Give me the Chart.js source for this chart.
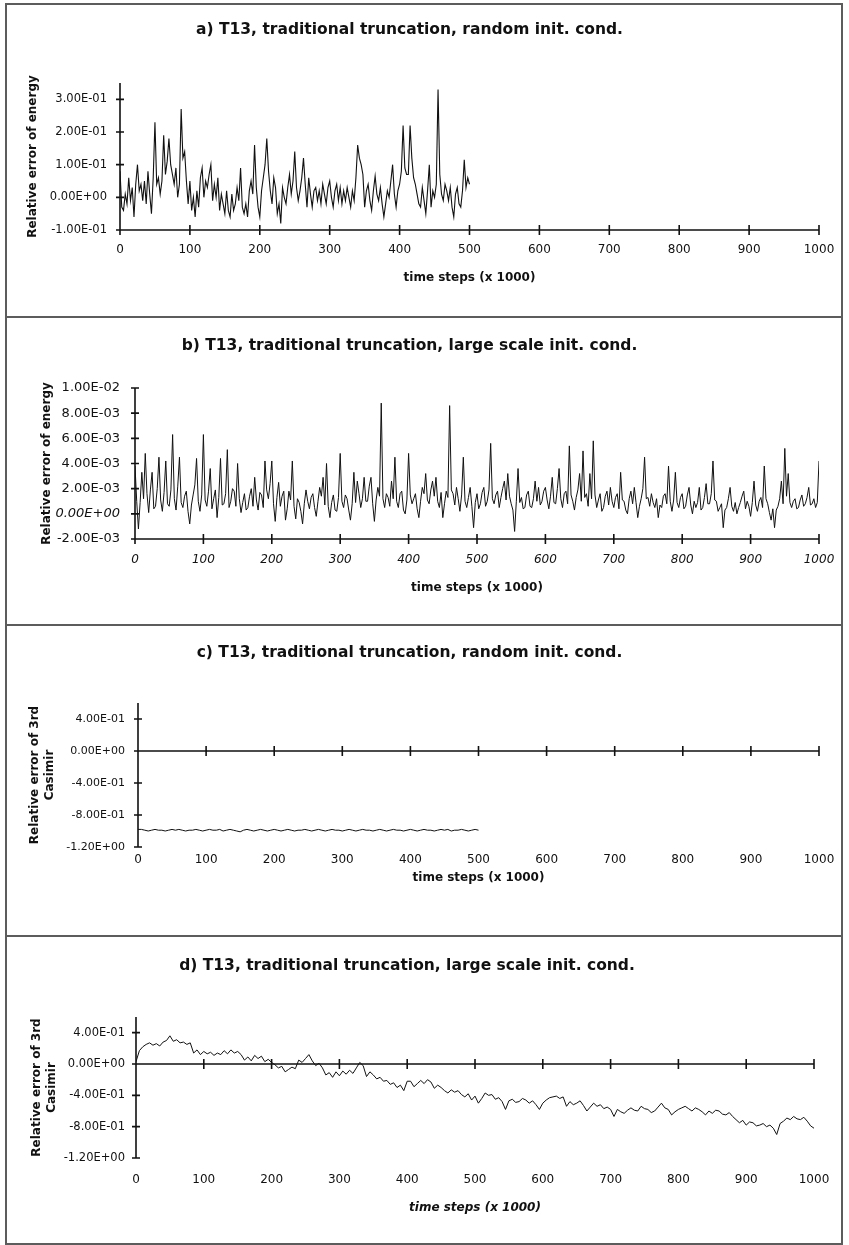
<!DOCTYPE html>
<html>
<head>
<meta charset="utf-8">
<script src="https://cdn.jsdelivr.net/npm/chart.js@4.4.1/dist/chart.umd.min.js"></script>
<style>
  html, body { margin: 0; padding: 0; background: #fff; }
  body { width: 849px; height: 1245px; position: relative; overflow: hidden; }
  .cadre { position: absolute; left: 5px; width: 838px; border: 2px solid #5c5c5c; border-bottom: none; box-sizing: border-box; }
  canvas { position: absolute; left: 0; }
</style>
</head>
<body>
<div class="cadre" style="top:3px;height:313px"></div>
<div class="cadre" style="top:316px;height:308px"></div>
<div class="cadre" style="top:624px;height:311px"></div>
<div class="cadre" style="top:935px;height:310px;border-bottom:2px solid #5c5c5c"></div>

<canvas id="graphe-a" width="849" height="313" style="top:3px"></canvas>
<canvas id="graphe-b" width="849" height="308" style="top:316px"></canvas>
<canvas id="graphe-c" width="849" height="311" style="top:624px"></canvas>
<canvas id="graphe-d" width="849" height="308" style="top:935px"></canvas>

<script>
// Pas de temps (x 1000) entre deux valeurs successives de chaque série
const PAS_A = 2.5;
const PAS_B = 2.5;
const PAS_C = 5;
const PAS_D = 5;

// a) erreur relative d'énergie, conditions initiales aléatoires (0 à 500)
const energieA = [
  0.08, -0.03, -0.04, 0.01, -0.02, 0.06, -0.01, 0.03, -0.06, 0.04,
  0.10, 0.02, 0.04, -0.01, 0.05, -0.02, 0.08, 0.01, -0.05, 0.06,
  0.23, 0.04, 0.06, 0.01, 0.05, 0.19, 0.07, 0.11, 0.18, 0.10,
  0.07, 0.04, 0.09, 0.00, 0.04, 0.27, 0.12, 0.14, 0.05, -0.02,
  0.05, -0.04, 0.00, -0.06, 0.02, -0.03, 0.06, 0.09, 0.00, 0.05,
  0.03, 0.07, 0.10, -0.01, 0.04, 0.00, 0.06, -0.04, 0.01, -0.02,
  -0.05, 0.02, -0.04, -0.06, 0.01, -0.04, -0.02, 0.03, -0.01, 0.09,
  -0.03, -0.05, -0.02, -0.06, 0.02, 0.05, 0.01, 0.16, 0.03, -0.03,
  -0.06, 0.02, 0.06, 0.10, 0.18, 0.08, 0.02, -0.02, 0.06, 0.03,
  -0.05, -0.02, -0.08, 0.03, 0.00, -0.02, 0.03, 0.07, 0.01, 0.05,
  0.14, 0.03, -0.01, 0.02, 0.06, 0.12, 0.04, -0.03, 0.06, 0.01,
  -0.03, 0.02, 0.03, -0.01, 0.02, -0.02, 0.04, 0.01, -0.02, 0.03,
  0.05, 0.00, -0.03, 0.02, 0.04, -0.01, 0.03, -0.02, 0.02, -0.01,
  0.03, 0.00, -0.03, 0.02, -0.01, 0.06, 0.16, 0.12, 0.10, 0.07,
  -0.03, 0.02, 0.04, -0.01, -0.04, 0.02, 0.065, 0.01, -0.01, 0.03,
  -0.02, -0.06, -0.02, 0.02, 0.00, 0.05, 0.10, 0.01, -0.03, 0.02,
  0.04, 0.08, 0.22, 0.09, 0.07, 0.07, 0.22, 0.12, 0.06, 0.04,
  0.01, -0.02, -0.03, 0.03, -0.01, -0.05, 0.02, 0.10, -0.03, 0.02,
  0.00, 0.04, 0.33, 0.07, 0.01, -0.01, 0.04, 0.02, -0.01, 0.03,
  -0.03, -0.06, 0.01, 0.03, -0.02, -0.03, 0.02, 0.115, 0.03, 0.06,
  0.04
];

// b) erreur relative d'énergie, conditions initiales grande échelle (0 à 1000)
const energieB = [
  0.0038, 0.0010, -0.0012, 0.0009, 0.0033, 0.0012, 0.0048, 0.0016, 0.0001, 0.0019,
  0.0033, 0.0004, 0.0006, 0.0020, 0.0045, 0.0011, 0.0002, 0.0017, 0.0042, 0.0008,
  0.0006, 0.0019, 0.0063, 0.0012, 0.0003, 0.0022, 0.0045, 0.0009, 0.0005, 0.0014,
  0.0018, 0.0002, -0.0008, 0.0007, 0.0015, 0.0023, 0.0044, 0.0010, 0.0002, 0.0015,
  0.0063, 0.0011, 0.0006, 0.0018, 0.0036, 0.0004, 0.0012, 0.0019, -0.0003, 0.0013,
  0.0044, 0.0007, 0.0008, 0.0016, 0.0051, 0.0005, 0.0010, 0.0020, 0.0018, 0.0006,
  0.0040, 0.0012, 0.0001, 0.0009, 0.0016, 0.0003, 0.0005, 0.0014, 0.0020, 0.0006,
  0.0029, 0.0011, 0.0003, 0.0017, 0.0015, 0.0005, 0.0042, 0.0019, 0.0012, 0.0024,
  0.0042, 0.0008, -0.0006, 0.0013, 0.0025, 0.0006, 0.0014, 0.0018, -0.0005, 0.0004,
  0.0018, 0.0011, 0.0042, 0.0006, -0.0004, 0.0012, 0.0009, 0.0002, -0.0008, 0.0008,
  0.0019, 0.0010, 0.0004, 0.0013, 0.0016, 0.0005, -0.0002, 0.0010, 0.0021, 0.0014,
  0.0029, 0.0007, 0.0040, 0.0006, -0.0003, 0.0009, 0.0015, 0.0003, 0.0002, 0.0013,
  0.0048, 0.0010, 0.0005, 0.0015, 0.0012, 0.0003, -0.0005, 0.0008, 0.0033, 0.0009,
  0.0026, 0.0016, 0.0005, 0.0012, 0.0029, 0.0010, 0.0010, 0.0022, 0.0029, 0.0008,
  -0.0006, 0.0011, 0.0021, 0.0014, 0.0088, 0.0012, 0.0005, 0.0016, 0.0013, 0.0006,
  0.0026, 0.0012, 0.0045, 0.0010, 0.0005, 0.0016, 0.0018, 0.0003, 0.0000, 0.0011,
  0.0048, 0.0015, 0.0008, 0.0012, 0.0016, 0.0004, -0.0003, 0.0010, 0.0021, 0.0016,
  0.0032, 0.0011, 0.0008, 0.0019, 0.0026, 0.0014, 0.0029, 0.0010, 0.0005, 0.0017,
  -0.0003, 0.0008, 0.0018, 0.0013, 0.0086, 0.0019, 0.0016, 0.0007, 0.0021, 0.0012,
  0.0002, 0.0015, 0.0045, 0.0010, 0.0005, 0.0013, 0.0021, 0.0006, -0.0011, 0.0009,
  0.0016, 0.0004, 0.0008, 0.0017, 0.0021, 0.0006, 0.0010, 0.0019, 0.0056, 0.0012,
  0.0008, 0.0015, 0.0018, 0.0005, 0.0013, 0.0020, 0.0026, 0.0011, 0.0032, 0.0014,
  0.0008, 0.0003, -0.0014, 0.0010, 0.0036, 0.0009, 0.0013, 0.0004, 0.0005, 0.0015,
  0.0018, 0.0006, 0.0005, 0.0012, 0.0026, 0.0010, 0.0021, 0.0007, 0.0010, 0.0018,
  0.0021, 0.0011, 0.0004, 0.0014, 0.0029, 0.0009, 0.0008, 0.0020, 0.0036, 0.0012,
  0.0005, 0.0016, 0.0018, 0.0008, 0.0054, 0.0015, 0.0010, 0.0003, 0.0013, 0.0019,
  0.0032, 0.0010, 0.0050, 0.0013, 0.0016, 0.0006, 0.0032, 0.0012, 0.0058, 0.0015,
  0.0005, 0.0011, 0.0016, 0.0002, 0.0005, 0.0014, 0.0018, 0.0007, 0.0021, 0.0010,
  0.0005, 0.0013, 0.0016, 0.0004, 0.0033, 0.0011, 0.0010, 0.0003, 0.0000, 0.0012,
  0.0018, 0.0008, 0.0021, 0.0009, -0.0003, 0.0006, 0.0012, 0.0020, 0.0045, 0.0012,
  0.0013, 0.0006, 0.0016, 0.0009, 0.0005, 0.0012, -0.0003, 0.0007, 0.0005, 0.0014,
  0.0016, 0.0008, 0.0038, 0.0010, 0.0002, 0.0011, 0.0033, 0.0009, 0.0005, 0.0013,
  0.0016, 0.0004, 0.0006, 0.0015, 0.0021, 0.0007, 0.0000, 0.0010, 0.0005, 0.0009,
  0.0021, 0.0003, 0.0005, 0.0013, 0.0024, 0.0008, 0.0008, 0.0016, 0.0042, 0.0011,
  0.0010, 0.0002, 0.0005, 0.0008, -0.0011, 0.0003, 0.0005, 0.0012, 0.0021, 0.0006,
  0.0002, 0.0009, 0.0000, 0.0005, 0.0009, 0.0014, 0.0018, 0.0004, 0.0010, 0.0006,
  -0.0002, 0.0009, 0.0026, 0.0007, 0.0002, 0.0010, 0.0013, 0.0005, 0.0038, 0.0012,
  0.0008, 0.0001, -0.0005, 0.0004, -0.0011, 0.0003, 0.0006, 0.0012, 0.0026, 0.0008,
  0.0052, 0.0014, 0.0032, 0.0009, 0.0005, 0.0010, 0.0012, 0.0004, 0.0005, 0.0011,
  0.0015, 0.0006, 0.0008, 0.0013, 0.0021, 0.0007, 0.0008, 0.0012, 0.0005, 0.0009,
  0.0042
];

// c) erreur relative du 3e Casimir, conditions initiales aléatoires (0 à 500)
const casimirC = [
  -0.98, -0.98, -0.99, -1.00, -0.99, -0.98, -0.99, -0.99, -1.00, -0.99,
  -0.98, -0.99, -0.98, -0.99, -1.00, -0.99, -0.99, -0.98, -0.99, -1.00,
  -0.99, -0.98, -0.99, -0.99, -0.98, -1.00, -0.99, -0.98, -0.99, -1.00,
  -1.01, -0.99, -0.98, -0.99, -1.00, -0.99, -0.98, -0.99, -1.00, -0.99,
  -0.98, -0.99, -1.00, -0.99, -0.98, -0.99, -1.00, -0.99, -0.99, -0.98,
  -0.99, -1.00, -0.99, -0.98, -0.99, -1.00, -0.99, -0.98, -0.99, -0.99,
  -1.00, -0.99, -0.98, -0.99, -1.00, -0.99, -0.98, -0.99, -0.99, -1.00,
  -0.99, -0.98, -0.99, -1.00, -0.99, -0.98, -0.99, -0.99, -1.00, -0.99,
  -0.98, -0.99, -1.00, -0.99, -0.98, -0.99, -0.99, -1.00, -0.99, -0.98,
  -0.99, -0.98, -1.00, -0.99, -0.99, -0.98, -0.99, -1.00, -0.99, -0.98,
  -0.99
];

// d) erreur relative du 3e Casimir, conditions initiales grande échelle (0 à 1000)
const casimirD = [
  0.03, 0.17, 0.22, 0.25, 0.27, 0.24, 0.26, 0.23, 0.28, 0.30,
  0.36, 0.29, 0.31, 0.27, 0.28, 0.25, 0.27, 0.14, 0.18, 0.12,
  0.16, 0.13, 0.15, 0.11, 0.14, 0.12, 0.17, 0.13, 0.18, 0.14,
  0.16, 0.12, 0.05, 0.09, 0.04, 0.11, 0.07, 0.10, 0.03, 0.06,
  0.02, -0.01, -0.05, -0.03, -0.10, -0.07, -0.04, -0.06, 0.05, 0.02,
  0.07, 0.12, 0.04, -0.02, 0.01, -0.05, -0.14, -0.11, -0.17, -0.10,
  -0.15, -0.09, -0.13, -0.08, -0.12, -0.05, 0.02, -0.02, -0.16, -0.10,
  -0.14, -0.19, -0.17, -0.22, -0.21, -0.26, -0.24, -0.30, -0.27, -0.34,
  -0.22, -0.22, -0.29, -0.25, -0.21, -0.25, -0.20, -0.23, -0.31, -0.27,
  -0.30, -0.34, -0.37, -0.33, -0.36, -0.34, -0.39, -0.42, -0.38, -0.46,
  -0.41, -0.50, -0.44, -0.37, -0.40, -0.39, -0.45, -0.43, -0.48, -0.58,
  -0.47, -0.45, -0.49, -0.48, -0.44, -0.46, -0.50, -0.47, -0.52, -0.58,
  -0.50, -0.46, -0.43, -0.42, -0.41, -0.44, -0.42, -0.54, -0.48, -0.52,
  -0.50, -0.47, -0.53, -0.60, -0.55, -0.50, -0.54, -0.52, -0.57, -0.55,
  -0.58, -0.67, -0.58, -0.61, -0.63, -0.59, -0.56, -0.59, -0.60, -0.54,
  -0.57, -0.58, -0.62, -0.60, -0.55, -0.50, -0.56, -0.58, -0.65, -0.61,
  -0.58, -0.56, -0.54, -0.57, -0.60, -0.56, -0.58, -0.61, -0.65, -0.60,
  -0.63, -0.59, -0.60, -0.64, -0.65, -0.62, -0.67, -0.71, -0.75, -0.72,
  -0.78, -0.74, -0.75, -0.79, -0.78, -0.76, -0.80, -0.78, -0.82, -0.90,
  -0.76, -0.73, -0.69, -0.71, -0.67, -0.70, -0.71, -0.68, -0.73, -0.79,
  -0.82
];

// Graduations (le texte sert aussi de valeur)
const etiquettesX = ["0", "100", "200", "300", "400", "500", "600", "700", "800", "900", "1000"];
const etiquettesYA = ["-1.00E-01", "0.00E+00", "1.00E-01", "2.00E-01", "3.00E-01"];
const etiquettesYB = ["-2.00E-03", "0.00E+00", "2.00E-03", "4.00E-03", "6.00E-03", "8.00E-03", "1.00E-02"];
const etiquettesYC = ["-1.20E+00", "-8.00E-01", "-4.00E-01", "0.00E+00", "4.00E-01"];

const POLICE = "'DejaVu Sans', 'Liberation Sans', sans-serif";
const NOIR = "#111";

// Axes à la manière d'un tableur : traits croisés sur l'axe vertical et sur l'axe horizontal
const axesCroises = {
  id: "axesCroises",
  beforeDatasetsDraw(chart, args, opts) {
    const { ctx, chartArea: zone, scales } = chart;
    const ax = scales.x;
    const ay = scales.y;
    const yAxe = ay.getPixelForValue(opts.croisement);
    ctx.save();
    ctx.strokeStyle = NOIR;
    ctx.lineWidth = 1.6;
    ctx.beginPath();
    ctx.moveTo(zone.left, zone.top);
    ctx.lineTo(zone.left, zone.bottom);
    ctx.moveTo(zone.left, yAxe);
    ctx.lineTo(zone.right, yAxe);
    ax.ticks.forEach((t) => {
      const px = ax.getPixelForValue(t.value);
      ctx.moveTo(px, yAxe - 5);
      ctx.lineTo(px, yAxe + 5);
    });
    ay.ticks.forEach((t) => {
      const py = ay.getPixelForValue(t.value);
      ctx.moveTo(zone.left - 4, py);
      ctx.lineTo(zone.left + 4, py);
    });
    ctx.stroke();
    ctx.restore();
  },
};

function tracerPanneau(id, p) {
  const ctx = document.getElementById(id).getContext("2d");
  new Chart(ctx, {
    type: "line",
    data: {
      datasets: [
        {
          data: p.serie.map((v, i) => ({ x: i * p.pas, y: v })),
          borderColor: NOIR,
          borderWidth: p.epaisseur || 1,
          pointRadius: 0,
          tension: 0,
          fill: false,
        },
      ],
    },
    options: {
      responsive: false,
      animation: false,
      devicePixelRatio: 1,
      layout: { padding: { left: 0, right: p.margeDroite, top: 0, bottom: 0 } },
      plugins: {
        legend: { display: false },
        tooltip: { enabled: false },
        title: {
          display: true,
          text: p.titre,
          color: NOIR,
          font: { family: POLICE, size: 15.5, weight: "bold" },
          padding: { top: p.titreHaut, bottom: p.titreBas },
        },
        axesCroises: { croisement: p.croisement },
      },
      scales: {
        x: {
          type: "linear",
          min: 0,
          max: 1000,
          grid: { display: false, drawTicks: false },
          border: { display: false },
          afterBuildTicks: (s) => {
            s.ticks = etiquettesX.map((e) => ({ value: Number(e) }));
          },
          afterFit: (s) => {
            s.height = p.hauteurX;
          },
          ticks: {
            autoSkip: false,
            maxRotation: 0,
            padding: p.padTickX,
            color: NOIR,
            font: { family: POLICE, size: 12, style: p.italiqueX ? "italic" : "normal" },
            callback: (v) => String(v),
          },
          title: {
            display: true,
            text: "time steps (x 1000)",
            color: NOIR,
            font: { family: POLICE, size: 12, weight: "bold", style: p.titreXItalique ? "italic" : "normal" },
            padding: { top: 0, bottom: p.padTitreX },
          },
        },
        y: {
          min: p.yMin,
          max: p.yMax,
          grid: { display: false, drawTicks: false },
          border: { display: false },
          afterBuildTicks: (s) => {
            s.ticks = p.etiquettesY.map((e) => ({ value: Number(e) }));
          },
          afterFit: (s) => {
            s.width = p.largeurY;
          },
          ticks: {
            padding: p.padTickY,
            color: NOIR,
            font: (c) => ({
              family: POLICE,
              size: p.tailleY,
              style: p.zeroItalique && c.tick && c.tick.value === 0 ? "italic" : "normal",
            }),
            callback: (v) => p.etiquettesY.find((e) => Number(e) === v) || "",
          },
          title: {
            display: true,
            text: p.titreY,
            color: NOIR,
            font: { family: POLICE, size: 12, weight: "bold" },
            padding: { top: p.padTitreY, bottom: 0 },
          },
        },
      },
    },
    plugins: [axesCroises],
  });
}

tracerPanneau("graphe-a", {
  serie: energieA, pas: PAS_A, epaisseur: 1.1,
  titre: "a) T13, traditional truncation, random init. cond.",
  titreY: "Relative error of energy",
  etiquettesY: etiquettesYA, yMin: -0.1, yMax: 0.35, croisement: -0.1,
  titreHaut: 17.7, titreBas: 43.7, margeDroite: 30,
  largeurY: 120, hauteurX: 86, padTickX: 12.8, padTitreX: 30.8,
  padTickY: 13, padTitreY: 25.8, tailleY: 11.5,
});

tracerPanneau("graphe-b", {
  serie: energieB, pas: PAS_B,
  titre: "b) T13, traditional truncation, large scale init. cond.",
  titreY: "Relative error of energy",
  etiquettesY: etiquettesYB, yMin: -0.002, yMax: 0.01, croisement: -0.002,
  titreHaut: 20.7, titreBas: 32.7, margeDroite: 30,
  largeurY: 135, hauteurX: 85, padTickX: 13.8, padTitreX: 28.8,
  padTickY: 15, padTitreY: 39.8, tailleY: 13,
  italiqueX: true, zeroItalique: true,
});

tracerPanneau("graphe-c", {
  serie: casimirC, pas: PAS_C,
  titre: "c) T13, traditional truncation, random init. cond.",
  titreY: ["Relative error of 3rd", "Casimir"],
  etiquettesY: etiquettesYC, yMin: -1.2, yMax: 0.6, croisement: 0,
  titreHaut: 19.7, titreBas: 40.7, margeDroite: 30,
  largeurY: 138, hauteurX: 88, padTickX: 5.8, padTitreX: 49.8,
  padTickY: 13, padTitreY: 27.8, tailleY: 11,
});

tracerPanneau("graphe-d", {
  serie: casimirD, pas: PAS_D,
  titre: "d) T13, traditional truncation, large scale init. cond.",
  titreY: ["Relative error of 3rd", "Casimir"],
  etiquettesY: etiquettesYC, yMin: -1.2, yMax: 0.6, croisement: 0,
  titreHaut: 21.7, titreBas: 41.7, margeDroite: 35,
  largeurY: 136, hauteurX: 85, padTickX: 14.8, padTitreX: 27.8,
  padTickY: 11, padTitreY: 29.8, tailleY: 11.5,
  titreXItalique: true,
});
</script>
</body>
</html>
